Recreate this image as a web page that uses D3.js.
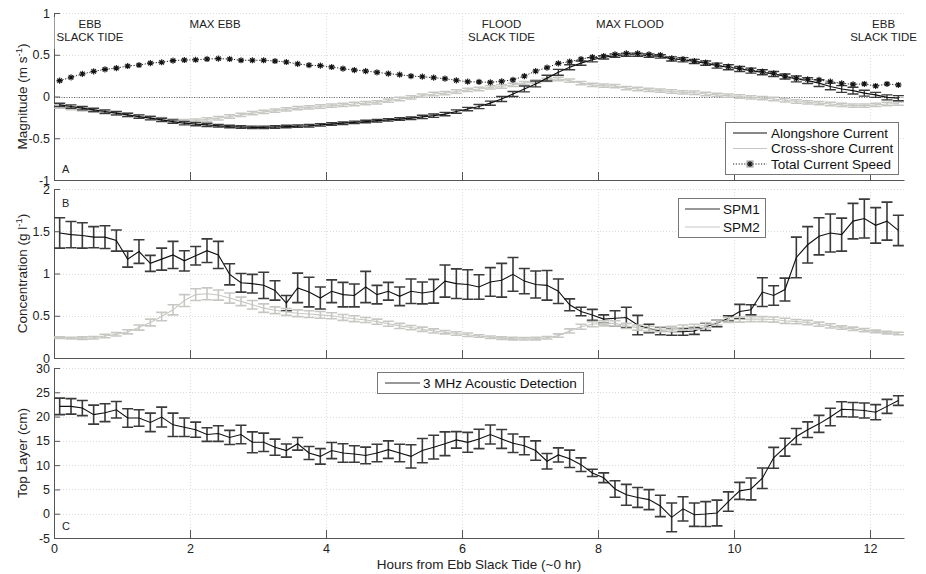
<!DOCTYPE html>
<html>
<head>
<meta charset="utf-8">
<script src="https://cdn.jsdelivr.net/npm/d3@7"></script>
<style>
  body { margin: 0; background: #fff; }
  svg { display: block; font-family: "Liberation Sans", Arial, Helvetica, sans-serif; }
</style>
</head>
<body>
<svg id="chart" width="926" height="574"></svg>
<script>
// Sample times (minutes after ebb slack tide), 10-minute bins
const minutes = [5,15,25,35,45,55,65,75,85,95,105,115,125,135,145,155,165,175,185,195,
  205,215,225,235,245,255,265,275,285,295,305,315,325,335,345,355,365,375,385,395,
  405,415,425,435,445,455,465,475,485,495,505,515,525,535,545,555,565,575,585,595,
  605,615,625,635,645,655,665,675,685,695,705,715,725,735,745];

// Panel A: currents (m/s)
const alongshore = [-0.10,-0.12,-0.14,-0.16,-0.18,-0.20,-0.22,-0.24,-0.26,-0.28,
  -0.30,-0.32,-0.33,-0.34,-0.35,-0.36,-0.365,-0.37,-0.37,-0.365,
  -0.36,-0.355,-0.35,-0.34,-0.33,-0.32,-0.31,-0.30,-0.29,-0.28,
  -0.27,-0.26,-0.245,-0.23,-0.21,-0.18,-0.15,-0.12,-0.08,-0.03,
  0.03,0.09,0.15,0.22,0.29,0.35,0.40,0.44,0.47,0.49,
  0.50,0.50,0.49,0.48,0.45,0.44,0.42,0.40,0.37,0.35,
  0.33,0.31,0.29,0.27,0.24,0.21,0.19,0.16,0.12,0.09,
  0.07,0.04,0.02,-0.01,-0.02];
const alongshoreErr = [0.02,0.02,0.02,0.02,0.02,0.02,0.02,0.02,0.02,0.02,
  0.02,0.02,0.02,0.02,0.015,0.015,0.015,0.015,0.015,0.015,
  0.015,0.015,0.015,0.015,0.015,0.015,0.015,0.015,0.015,0.015,
  0.015,0.015,0.02,0.02,0.02,0.02,0.02,0.025,0.025,0.03,
  0.03,0.035,0.035,0.035,0.035,0.03,0.025,0.025,0.02,0.02,
  0.02,0.02,0.02,0.02,0.025,0.025,0.025,0.025,0.03,0.03,
  0.03,0.03,0.03,0.03,0.03,0.035,0.035,0.04,0.04,0.04,
  0.04,0.035,0.03,0.03,0.03];
const crossShore = [-0.12,-0.14,-0.155,-0.17,-0.19,-0.205,-0.22,-0.24,-0.255,-0.27,
  -0.285,-0.295,-0.29,-0.275,-0.26,-0.24,-0.22,-0.20,-0.185,-0.17,
  -0.155,-0.14,-0.13,-0.12,-0.11,-0.10,-0.09,-0.08,-0.07,-0.05,
  -0.03,-0.01,0.01,0.03,0.04,0.06,0.08,0.09,0.11,0.12,
  0.14,0.16,0.18,0.20,0.21,0.19,0.16,0.14,0.13,0.125,
  0.10,0.09,0.08,0.07,0.06,0.05,0.045,0.03,0.02,0.01,
  0.00,-0.01,-0.02,-0.03,-0.045,-0.06,-0.07,-0.08,-0.09,-0.10,
  -0.11,-0.11,-0.10,-0.09,-0.085];
const crossShoreErr = [0.02,0.02,0.02,0.02,0.02,0.02,0.02,0.02,0.02,0.02,
  0.02,0.02,0.02,0.02,0.02,0.02,0.02,0.02,0.02,0.02,
  0.02,0.02,0.02,0.02,0.02,0.02,0.02,0.02,0.02,0.02,
  0.02,0.02,0.02,0.02,0.02,0.02,0.02,0.02,0.02,0.02,
  0.02,0.02,0.02,0.02,0.02,0.02,0.02,0.02,0.02,0.02,
  0.02,0.02,0.02,0.02,0.02,0.02,0.02,0.02,0.02,0.02,
  0.02,0.02,0.02,0.02,0.02,0.02,0.02,0.02,0.02,0.02,
  0.02,0.02,0.02,0.02,0.02];
const totalSpeed = [0.19,0.23,0.27,0.30,0.325,0.34,0.365,0.377,0.40,0.41,
  0.43,0.437,0.44,0.449,0.453,0.449,0.434,0.434,0.434,0.425,
  0.413,0.39,0.375,0.37,0.353,0.333,0.317,0.305,0.29,0.273,
  0.261,0.245,0.237,0.225,0.213,0.194,0.177,0.174,0.17,0.182,
  0.20,0.245,0.305,0.345,0.397,0.417,0.449,0.473,0.485,0.505,
  0.517,0.517,0.505,0.497,0.457,0.449,0.425,0.405,0.377,0.357,
  0.338,0.317,0.297,0.278,0.245,0.218,0.206,0.198,0.177,0.158,
  0.146,0.15,0.126,0.15,0.138];
const totalSpeedErr = [0.012,0.012,0.012,0.012,0.012,0.012,0.012,0.012,0.012,0.012,
  0.012,0.012,0.012,0.012,0.012,0.012,0.012,0.012,0.012,0.012,
  0.012,0.012,0.012,0.012,0.012,0.012,0.012,0.012,0.012,0.012,
  0.012,0.012,0.012,0.012,0.012,0.012,0.012,0.012,0.012,0.012,
  0.012,0.012,0.012,0.012,0.012,0.012,0.012,0.012,0.012,0.012,
  0.012,0.012,0.012,0.012,0.012,0.012,0.012,0.012,0.012,0.012,
  0.012,0.012,0.012,0.012,0.012,0.012,0.012,0.012,0.012,0.012,
  0.012,0.012,0.012,0.012,0.012];

// Panel B: suspended particulate matter (g/l)
const spm1 = [1.48,1.46,1.45,1.43,1.43,1.39,1.17,1.26,1.12,1.17,
  1.22,1.15,1.21,1.27,1.22,0.99,0.89,0.88,0.86,0.80,
  0.65,0.83,0.78,0.71,0.79,0.75,0.74,0.84,0.75,0.79,
  0.73,0.79,0.77,0.79,0.91,0.88,0.87,0.84,0.90,0.92,
  0.99,0.91,0.87,0.86,0.79,0.63,0.55,0.51,0.46,0.47,
  0.48,0.39,0.35,0.32,0.31,0.31,0.32,0.37,0.41,0.47,
  0.55,0.57,0.78,0.74,0.81,1.19,1.34,1.44,1.48,1.46,
  1.62,1.65,1.57,1.62,1.51];
const spm1Err = [0.18,0.155,0.15,0.125,0.135,0.125,0.095,0.14,0.095,0.13,
  0.16,0.12,0.11,0.14,0.16,0.125,0.11,0.11,0.155,0.115,
  0.09,0.175,0.175,0.13,0.135,0.145,0.135,0.185,0.11,0.105,
  0.11,0.145,0.13,0.14,0.19,0.175,0.175,0.145,0.17,0.20,
  0.20,0.15,0.16,0.175,0.145,0.07,0.05,0.065,0.05,0.09,
  0.12,0.115,0.05,0.045,0.04,0.04,0.04,0.045,0.04,0.03,
  0.085,0.06,0.17,0.115,0.135,0.24,0.215,0.22,0.225,0.195,
  0.21,0.23,0.21,0.225,0.18];
const spm2 = [0.24,0.235,0.235,0.24,0.26,0.28,0.31,0.36,0.42,0.49,
  0.57,0.68,0.75,0.76,0.745,0.71,0.67,0.63,0.59,0.565,
  0.545,0.53,0.52,0.51,0.50,0.48,0.465,0.45,0.43,0.405,
  0.38,0.36,0.34,0.32,0.305,0.29,0.275,0.26,0.245,0.235,
  0.23,0.228,0.23,0.24,0.265,0.32,0.37,0.40,0.41,0.41,
  0.38,0.36,0.345,0.34,0.345,0.36,0.37,0.39,0.42,0.45,
  0.455,0.46,0.46,0.455,0.44,0.43,0.42,0.40,0.38,0.36,
  0.345,0.33,0.315,0.30,0.29];
const spm2Err = [0.01,0.01,0.015,0.015,0.02,0.02,0.025,0.03,0.04,0.05,
  0.06,0.07,0.07,0.07,0.06,0.06,0.05,0.05,0.05,0.04,
  0.04,0.04,0.04,0.04,0.035,0.035,0.035,0.03,0.03,0.03,
  0.03,0.025,0.025,0.025,0.02,0.02,0.02,0.015,0.015,0.015,
  0.015,0.015,0.015,0.015,0.02,0.025,0.03,0.03,0.03,0.03,
  0.03,0.03,0.03,0.03,0.03,0.03,0.03,0.03,0.03,0.03,
  0.03,0.03,0.03,0.03,0.03,0.025,0.025,0.025,0.025,0.02,
  0.02,0.02,0.015,0.015,0.015];

// Panel C: top layer thickness from 3 MHz acoustic detection (cm)
const topLayer = [22.1,22.1,21.75,20.4,20.8,21.4,19.7,19.7,18.8,19.9,
  18.3,17.8,17.3,16.3,16.5,15.7,16.3,14.7,14.7,13.7,
  13.0,14.4,12.5,11.8,13.0,12.5,12.3,12.0,12.5,13.2,
  12.5,11.8,13.0,13.7,14.4,15.2,14.7,15.4,16.3,15.4,
  14.5,14.0,13.0,10.8,12.1,11.3,10.1,8.4,7.4,5.1,
  3.9,3.35,2.9,1.6,-0.75,1.0,-0.2,-0.07,0.14,2.5,
  4.7,5.1,7.3,11.5,13.7,15.9,17.3,18.5,19.9,21.5,
  21.4,21.25,20.9,22.1,23.3];
const topLayerErr = [1.7,1.6,1.55,1.95,1.85,1.7,1.9,1.7,1.9,2.05,
  2.4,1.9,1.55,1.4,1.6,1.45,1.9,2.15,1.9,1.65,
  1.35,1.3,1.35,1.6,1.65,1.9,1.7,1.7,1.8,1.8,
  1.8,2.4,2.5,2.45,2.45,1.7,2.05,2.0,1.95,1.95,
  1.9,1.85,2.0,1.6,1.45,1.8,1.4,0.75,1.0,1.7,
  2.15,2.05,2.05,2.2,2.95,2.5,2.4,2.55,2.65,2.0,
  1.75,2.25,2.1,2.15,1.85,1.65,1.6,1.75,1.8,1.55,
  1.5,1.55,1.55,1.45,1.0];

// Axis ticks
const hourTicks = [0, 2, 4, 6, 8, 10, 12];
const magnitudeTicks = [-1, -0.5, 0, 0.5, 1];
const concentrationTicks = [0, 0.5, 1, 1.5, 2];
const topLayerTicks = [-5, 0, 5, 10, 15, 20, 25, 30];

// Tidal phase annotations (hour of label centre)
const tidePhases = [
  { hour: 0.53, lines: ["EBB", "SLACK TIDE"] },
  { hour: 2.37, lines: ["MAX EBB"] },
  { hour: 6.58, lines: ["FLOOD", "SLACK TIDE"] },
  { hour: 8.47, lines: ["MAX FLOOD"] },
  { hour: 12.2, lines: ["EBB", "SLACK TIDE"] }
];

// ---------------------------------------------------------------------------
const FONT = '"Liberation Sans", Arial, Helvetica, sans-serif';
const BLACK = "#111";
const BAR_DARK = "#3a3a3a";
const GRAY = "#c7c7c3";
const hours = minutes.map(m => m / 60);

const svg = d3.select("#chart");
const x = d3.scaleLinear().domain([0, 12.5]).range([54, 904]);

function series(values, errors) {
  return values.map((v, i) => ({ h: hours[i], v, e: errors[i] }));
}

function makePanel(opts) {
  const y = d3.scaleLinear().domain(opts.domain).range([opts.bottom, opts.top]);
  const g = svg.append("g");

  // dotted grid
  const grid = g.append("g").attr("stroke", "#dcdcdc").attr("stroke-width", 1)
    .attr("stroke-dasharray", "1,2").attr("fill", "none");
  grid.selectAll(".gy").data(opts.ticks.filter(t => t !== opts.domain[0])).join("line")
    .attr("x1", x.range()[0]).attr("x2", x.range()[1])
    .attr("y1", d => Math.round(y(d)) + 0.5).attr("y2", d => Math.round(y(d)) + 0.5);
  grid.selectAll(".gx").data(hourTicks.filter(t => t > 0)).join("line")
    .attr("x1", d => Math.round(x(d)) + 0.5).attr("x2", d => Math.round(x(d)) + 0.5)
    .attr("y1", opts.top).attr("y2", opts.bottom);

  // axes (ticks point inward)
  const yAxis = g.append("g")
    .attr("transform", `translate(${x.range()[0]},0)`)
    .call(d3.axisLeft(y).tickValues(opts.ticks).tickSize(-6).tickSizeOuter(0)
      .tickPadding(4).tickFormat(d => String(d)));
  const xAxis = g.append("g")
    .attr("transform", `translate(0,${opts.bottom})`)
    .call(d3.axisBottom(x).tickValues(hourTicks).tickSize(-8).tickSizeOuter(0)
      .tickPadding(6).tickFormat(opts.showX ? (d => String(d)) : () => ""));
  [yAxis, xAxis].forEach(a => {
    a.attr("font-family", FONT).attr("font-size", 12.5);
    a.select(".domain").attr("stroke", "#555");
    a.selectAll(".tick line").attr("stroke", "#555");
    a.selectAll(".tick text").attr("fill", "#222");
  });

  // y label
  const lbl = g.append("text")
    .attr("transform", `translate(27,${(opts.top + opts.bottom) / 2}) rotate(-90)`)
    .attr("text-anchor", "middle").attr("font-size", 13.5).attr("fill", "#222");
  lbl.append("tspan").text(opts.label[0]);
  if (opts.label.length > 1) {
    lbl.append("tspan").attr("dy", -5).attr("font-size", 9.5).text(opts.label[1]);
    lbl.append("tspan").attr("dy", 5).text(opts.label[2]);
  }

  // panel letter
  g.append("text").attr("x", 62).attr("y", opts.letterY)
    .attr("font-size", 11).attr("fill", "#222").text(opts.letter);

  return { g, y };
}

function drawErrorSeries(p, data, style) {
  const y = p.y;
  const c = style.cap;
  p.g.append("g").selectAll("path").data(data).join("path")
    .attr("fill", "none").attr("stroke", style.barColor).attr("stroke-width", style.barWidth)
    .attr("d", d => {
      const cx = x(d.h), y0 = y(d.v - d.e), y1 = y(d.v + d.e);
      return `M${cx},${y0}V${y1}M${cx - c},${y0}H${cx + c}M${cx - c},${y1}H${cx + c}`;
    });
  p.g.append("path").datum(data)
    .attr("fill", "none").attr("stroke", style.lineColor).attr("stroke-width", style.lineWidth)
    .attr("stroke-dasharray", style.dash || null)
    .attr("d", d3.line().x(d => x(d.h)).y(d => y(d.v)));
}

function asteriskPath(cx, cy, r) {
  const k = r * 0.72;
  return `M${cx - r},${cy}H${cx + r}M${cx},${cy - r}V${cy + r}` +
    `M${cx - k},${cy - k}L${cx + k},${cy + k}M${cx - k},${cy + k}L${cx + k},${cy - k}`;
}

// ---------------- Panel A ----------------
const pA = makePanel({ top: 13, bottom: 180, domain: [-1, 1], ticks: magnitudeTicks,
  label: ["Magnitude (m s", "-1", ")"], letter: "A", letterY: 173, showX: false });

// zero reference
pA.g.append("line").attr("x1", x.range()[0]).attr("x2", x.range()[1])
  .attr("y1", Math.round(pA.y(0)) + 0.5).attr("y2", Math.round(pA.y(0)) + 0.5)
  .attr("stroke", "#444").attr("stroke-width", 0.8).attr("stroke-dasharray", "1,1.5");

drawErrorSeries(pA, series(crossShore, crossShoreErr),
  { barColor: GRAY, barWidth: 1.5, cap: 5.5, lineColor: GRAY, lineWidth: 1.2 });
drawErrorSeries(pA, series(alongshore, alongshoreErr),
  { barColor: BAR_DARK, barWidth: 1.4, cap: 5.5, lineColor: BLACK, lineWidth: 1.2 });
const totalData = series(totalSpeed, totalSpeedErr);
drawErrorSeries(pA, totalData,
  { barColor: "#9a9a9a", barWidth: 1.2, cap: 3, lineColor: "#222", lineWidth: 1, dash: "1.2,1.6" });
pA.g.append("g").selectAll("path").data(totalData).join("path")
  .attr("fill", "none").attr("stroke", BLACK).attr("stroke-width", 1.1)
  .attr("d", d => asteriskPath(x(d.h), pA.y(d.v), 3.1));

// tidal phase labels
const phaseG = pA.g.append("g").attr("font-size", 11.5).attr("fill", "#222").attr("text-anchor", "middle");
tidePhases.forEach(ph => {
  const t = phaseG.append("text").attr("x", x(ph.hour)).attr("y", 28);
  ph.lines.forEach((ln, i) => {
    t.append("tspan").attr("x", x(ph.hour)).attr("dy", i === 0 ? 0 : 12.8).text(ln);
  });
  const bb = t.node().getBBox();
  phaseG.insert("rect", () => t.node())
    .attr("x", bb.x - 2).attr("y", bb.y - 1).attr("width", bb.width + 4).attr("height", bb.height + 7)
    .attr("fill", "#fff");
});

// legend A
const legA = pA.g.append("g").attr("font-size", 13.5).attr("fill", "#111");
legA.append("rect").attr("x", 725.5).attr("y", 122.5).attr("width", 173).attr("height", 52)
  .attr("fill", "#fff").attr("stroke", "#777");
const legARows = [
  { label: "Alongshore Current", y: 133, color: BLACK },
  { label: "Cross-shore Current", y: 148.5, color: GRAY },
  { label: "Total Current Speed", y: 164, color: "#222", dash: "1.2,1.6", star: true }
];
legARows.forEach(r => {
  legA.append("line").attr("x1", 733).attr("x2", 767).attr("y1", r.y).attr("y2", r.y)
    .attr("stroke", r.color).attr("stroke-width", 1.2).attr("stroke-dasharray", r.dash || null);
  if (r.star) {
    legA.append("rect").attr("x", 747).attr("y", r.y - 3).attr("width", 6).attr("height", 6)
      .attr("fill", "none").attr("stroke", "#9a9a9a");
    legA.append("path").attr("d", asteriskPath(750, r.y, 3)).attr("stroke", BLACK)
      .attr("stroke-width", 1.1).attr("fill", "none");
  }
  legA.append("text").attr("x", 771).attr("y", r.y + 4.8).text(r.label);
});

// ---------------- Panel B ----------------
const pB = makePanel({ top: 189, bottom: 358, domain: [0, 2], ticks: concentrationTicks,
  label: ["Concentration (g l", "-1", ")"], letter: "B", letterY: 207, showX: false });
drawErrorSeries(pB, series(spm1, spm1Err),
  { barColor: BAR_DARK, barWidth: 1.6, cap: 5.5, lineColor: BLACK, lineWidth: 1.1 });
drawErrorSeries(pB, series(spm2, spm2Err),
  { barColor: GRAY, barWidth: 1.6, cap: 5.5, lineColor: GRAY, lineWidth: 1.1 });

const legB = pB.g.append("g").attr("font-size", 13.5).attr("fill", "#111");
legB.append("rect").attr("x", 678.5).attr("y", 198.5).attr("width", 87).attr("height", 39)
  .attr("fill", "#fff").attr("stroke", "#777");
[{ label: "SPM1", y: 209, color: "#333" }, { label: "SPM2", y: 227, color: GRAY }].forEach(r => {
  legB.append("line").attr("x1", 685).attr("x2", 720).attr("y1", r.y).attr("y2", r.y)
    .attr("stroke", r.color).attr("stroke-width", 1.2);
  legB.append("text").attr("x", 723).attr("y", r.y + 4.8).text(r.label);
});

// ---------------- Panel C ----------------
const pC = makePanel({ top: 368, bottom: 538, domain: [-5, 30], ticks: topLayerTicks,
  label: ["Top Layer (cm)"], letter: "C", letterY: 530, showX: true });
drawErrorSeries(pC, series(topLayer, topLayerErr),
  { barColor: BAR_DARK, barWidth: 1.6, cap: 5.5, lineColor: BLACK, lineWidth: 1.1 });

const legC = pC.g.append("g").attr("font-size", 13.5).attr("fill", "#111");
legC.append("rect").attr("x", 377.5).attr("y", 372.5).attr("width", 206).attr("height", 21)
  .attr("fill", "#fff").attr("stroke", "#777");
legC.append("line").attr("x1", 385).attr("x2", 420).attr("y1", 383).attr("y2", 383)
  .attr("stroke", "#333").attr("stroke-width", 1.2);
legC.append("text").attr("x", 423).attr("y", 387.8).text("3 MHz Acoustic Detection");

// x axis title
svg.append("text").attr("x", (x.range()[0] + x.range()[1]) / 2).attr("y", 569)
  .attr("text-anchor", "middle").attr("font-size", 13.5).attr("fill", "#222")
  .text("Hours from Ebb Slack Tide (~0 hr)");
</script>
</body>
</html>
